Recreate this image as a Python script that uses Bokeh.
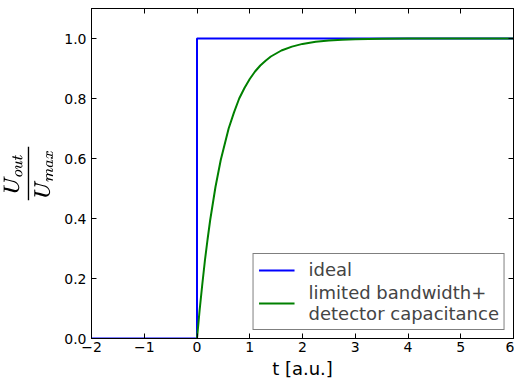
from bokeh.plotting import figure
from bokeh.models import LinearAxis, FixedTicker, Range1d, Legend, LegendItem, CustomJSTickFormatter
from bokeh.embed import file_html
from bokeh.resources import INLINE

# data
ideal_t = [-2, 0, 0, 6]
ideal_u = [0, 0, 1, 1]
limited_t = [0, 0.05, 0.1, 0.15, 0.2, 0.25, 0.3, 0.35, 0.4, 0.45, 0.5, 0.6, 0.7, 0.8, 0.9, 1.0, 1.1, 1.2, 1.3, 1.4,
             1.5, 1.6, 1.8, 2.0, 2.25, 2.5, 2.75, 3.0, 3.5, 4.0, 5.0, 6.0]
limited_u = [0, 0.095, 0.18, 0.26, 0.33, 0.395, 0.45, 0.505, 0.55, 0.595, 0.63, 0.70, 0.753, 0.80, 0.835, 0.865,
             0.89, 0.91, 0.926, 0.94, 0.95, 0.96, 0.973, 0.982, 0.989, 0.993, 0.996, 0.9975, 0.999, 1.0, 1.0, 1.0]
x_ticks = [-2, -1, 0, 1, 2, 3, 4, 5, 6]
y_ticks = [0.0, 0.2, 0.4, 0.6, 0.8, 1.0]
x_min, x_max = -2, 6
y_min, y_max = 0, 1.1

FONT = "DejaVu Sans"

p = figure(width=514, height=381, output_backend="svg", toolbar_location=None,
           x_range=Range1d(x_min, x_max), y_range=Range1d(y_min, y_max),
           x_axis_location=None, y_axis_location=None,
           min_border_left=10, min_border_right=1, min_border_top=8, min_border_bottom=10)
p.grid.visible = False
p.outline_line_color = "black"
p.outline_line_width = 1

r1 = p.line(ideal_t, ideal_u, line_color="#0000ff", line_width=2)
r2 = p.line(limited_t, limited_u, line_color="#008000", line_width=2)

xb = LinearAxis(ticker=FixedTicker(ticks=x_ticks), axis_label="t [a.u.]",
                formatter=CustomJSTickFormatter(code="return tick < 0 ? '\u2212' + Math.abs(tick) : '' + tick;"))
yl = LinearAxis(ticker=FixedTicker(ticks=y_ticks), axis_label=r"$$\frac{U_{out}}{U_{max}}$$",
                formatter=CustomJSTickFormatter(code="return tick.toFixed(1);"))
xt = LinearAxis(ticker=FixedTicker(ticks=x_ticks), formatter=CustomJSTickFormatter(code="return '';"))
yr = LinearAxis(ticker=FixedTicker(ticks=y_ticks), formatter=CustomJSTickFormatter(code="return '';"))
p.add_layout(xb, "below")
p.add_layout(yl, "left")
p.add_layout(xt, "above")
p.add_layout(yr, "right")

for ax in [xb, yl, xt, yr]:
    ax.major_tick_in = 5
    ax.major_tick_out = 0
    ax.major_tick_line_width = 1
    ax.minor_tick_line_color = None
    ax.axis_line_color = "black"
    ax.major_tick_line_color = "black"
    ax.major_label_text_font = FONT
    ax.major_label_text_color = "black"
    ax.major_label_text_font_size = "14px"
    ax.axis_label_text_font = FONT
    ax.axis_label_text_font_style = "normal"
    ax.axis_label_text_color = "black"
for ax in [xt, yr]:
    ax.major_label_standoff = 0
    ax.major_label_text_font_size = "1px"
xb.axis_label_text_font_size = "18px"
yl.axis_label_text_font_size = "17px"
xb.major_label_standoff = 3
yl.major_label_standoff = 5
xb.axis_label_standoff = 3
yl.axis_label_standoff = 8

legend = Legend(items=[LegendItem(label="ideal", renderers=[r1]),
                       LegendItem(label="limited bandwidth+\ndetector capacitance", renderers=[r2])],
                location="bottom_right")
legend.label_text_font = FONT
legend.label_text_font_size = "18px"
legend.label_text_line_height = 1.05
legend.border_line_color = "black"
legend.border_line_width = 1
legend.margin = 8
legend.padding = 5
legend.spacing = 2
legend.glyph_width = 36
legend.label_standoff = 14
p.add_layout(legend)

open("out.html", "w").write(file_html(p, INLINE))
